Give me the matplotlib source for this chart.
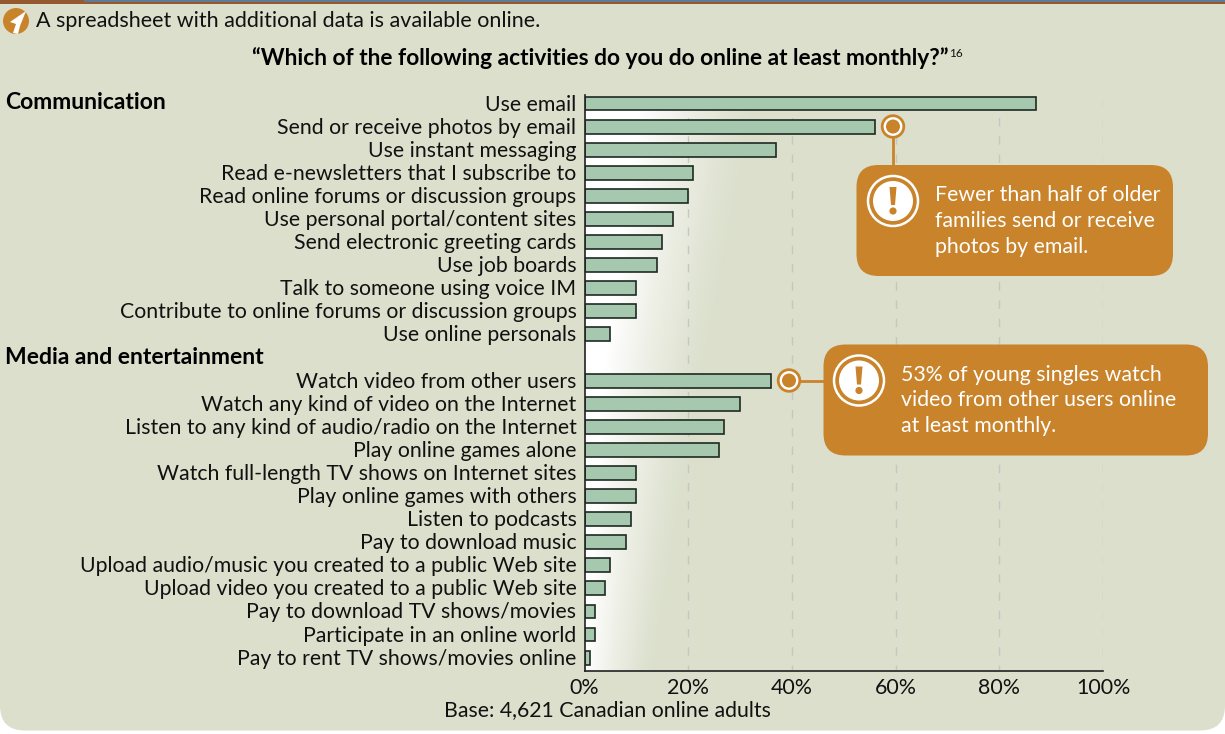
import matplotlib
matplotlib.use('Agg')
import matplotlib.pyplot as plt
import numpy as np
from matplotlib.patches import FancyBboxPatch, Circle, Rectangle
from matplotlib.transforms import ScaledTranslation

plt.rcParams['font.family'] = ['Lato', 'DejaVu Sans']

comm_labels = ['Use email', 'Send or receive photos by email', 'Use instant messaging',
               'Read e-newsletters that I subscribe to', 'Read online forums or discussion groups',
               'Use personal portal/content sites', 'Send electronic greeting cards', 'Use job boards',
               'Talk to someone using voice IM', 'Contribute to online forums or discussion groups',
               'Use online personals']
comm_values = [87, 56, 37, 21, 20, 17, 15, 14, 10, 10, 5]
media_labels = ['Watch video from other users', 'Watch any kind of video on the Internet',
                'Listen to any kind of audio/radio on the Internet', 'Play online games alone',
                'Watch full-length TV shows on Internet sites', 'Play online games with others',
                'Listen to podcasts', 'Pay to download music',
                'Upload audio/music you created to a public Web site',
                'Upload video you created to a public Web site', 'Pay to download TV shows/movies',
                'Participate in an online world', 'Pay to rent TV shows/movies online']
media_values = [36, 30, 27, 26, 10, 10, 9, 8, 5, 4, 2, 2, 1]
x_ticks = [0, 20, 40, 60, 80, 100]

BG = '#dbdfcc'
ORANGE = '#c9842b'
BAR = '#a6c8ae'
TEXT = '#111111'
W, H = 1225, 734

fig = plt.figure(figsize=(W / 100, H / 100), dpi=100, facecolor='white')

# full-figure layer in pixel coordinates for the panel, callouts and notes
bg = fig.add_axes([0, 0, 1, 1], zorder=0)
bg.set_xlim(0, W)
bg.set_ylim(H, 0)
bg.axis('off')
bg.add_patch(FancyBboxPatch((0, -40), W, 770.5, boxstyle='round,pad=0,rounding_size=25',
                            fc=BG, ec='none'))
bg.add_patch(Rectangle((0, 0), 84, 3.5, fc='#95592f', ec='none'))
bg.add_patch(Rectangle((84, 0), W - 84, 2, fc='#5f7a94', ec='none'))
bg.add_patch(Rectangle((84, 2), W - 84, 1.5, fc='#95592f', ec='none'))

# white glow behind the bars, wider near the top and narrowing downwards
gx, gy = np.meshgrid(np.linspace(585, 760, 260), np.linspace(106, 671, 260))
solid = np.interp(gy, [106, 380, 671], [640, 603, 585])
end = np.interp(gy, [106, 380, 671], [760, 705, 655])
alpha = np.clip((end - gx) / (end - solid), 0, 1) ** 1.3
glow = np.ones(alpha.shape + (4,))
glow[..., 3] = alpha
bg.imshow(glow, extent=(585, 760, 671, 106), aspect='auto', interpolation='bilinear', zorder=1)
bg.set_xlim(0, W)
bg.set_ylim(H, 0)

# chart
ax = fig.add_axes([584.5 / W, 1 - 671 / H, (1103 - 584.5) / W, (671 - 95) / H], zorder=1)
ax.patch.set_alpha(0)
ax.set_xlim(0, 100)
ax.set_ylim(24.58, -0.37)

comm_y = np.arange(len(comm_labels))
media_y = np.arange(len(media_labels)) + len(comm_labels) + 1
labels = comm_labels + media_labels
values = comm_values + media_values
y = np.concatenate([comm_y, media_y])

for t in x_ticks[1:]:
    ax.axvline(t, color='#c4c8c2', lw=1, linestyle=(1.73, (6.05, 7.09)), zorder=1)
ax.barh(y, values, height=0.6, color=BAR, edgecolor='#1f2a22', linewidth=1.2, zorder=2)

for s in ['top', 'right']:
    ax.spines[s].set_visible(False)
for s in ['left', 'bottom']:
    ax.spines[s].set_color('#222222')
    ax.spines[s].set_linewidth(1.2)
ax.set_xticks(x_ticks)
ax.set_xticklabels([f'{t}%' for t in x_ticks], fontsize=15.4, color=TEXT)
ax.tick_params(axis='x', length=0, pad=5)
ax.set_yticks(y)
ax.set_yticklabels(labels, fontsize=15.3, color=TEXT)
ax.tick_params(axis='y', length=0, pad=5.8)
nudge = ScaledTranslation(0, 1 / 100, fig.dpi_scale_trans)
for lab in ax.get_yticklabels():
    lab.set_transform(lab.get_transform() + nudge)

# notes and headings
bg.add_patch(Circle((16, 21), 13, fc=ORANGE, ec='none', zorder=2))
bg.fill([26, 10, 16, 13, 18, 20], [11, 22, 24, 33, 34, 26], color='white', lw=0, zorder=3)
bg.text(36, 21, 'A spreadsheet with additional data is available online.', fontsize=15.5,
        va='center', color=TEXT)
bg.text(252, 58, '\u201cWhich of the following activities do you do online at least monthly?\u201d',
        fontsize=16.35, fontweight='bold', ha='left', va='center', color='black')
bg.text(949, 53.5, '16', fontsize=8.5, ha='left', va='center', color=TEXT)
bg.text(5, 102.5, 'Communication', fontsize=16.5, fontweight='bold', va='center', color='black')
bg.text(5, 358, 'Media and entertainment', fontsize=16.5, fontweight='bold', va='center', color='black')
bg.text(607, 710, 'Base: 4,621 Canadian online adults', fontsize=15.3, ha='center', va='center', color=TEXT)

# callouts live on a top layer so they cover the gridlines
top = fig.add_axes([0, 0, 1, 1], zorder=2)
top.set_xlim(0, W)
top.set_ylim(H, 0)
top.axis('off')


def callout(x0, y0, w, h, text, icon_x, icon_y, text_x):
    top.add_patch(FancyBboxPatch((x0, y0), w, h, boxstyle='round,pad=0,rounding_size=22',
                                 fc=ORANGE, ec='none'))
    top.add_patch(Circle((icon_x, icon_y), 25, fc='none', ec='white', lw=1.8))
    top.add_patch(Circle((icon_x, icon_y), 20, fc='white', ec='none'))
    top.fill([icon_x - 3.5, icon_x + 3.5, icon_x + 2, icon_x - 2],
             [icon_y - 14, icon_y - 14, icon_y + 4, icon_y + 4], color=ORANGE, lw=0)
    top.add_patch(Circle((icon_x, icon_y + 10), 3.6, fc=ORANGE, ec='none'))
    top.text(text_x, y0 + h / 2 + 0.5, text, color='white', fontsize=15.3, va='center', linespacing=1.37)


def marker(cx, cy):
    top.add_patch(Circle((cx, cy), 10.8, fc='white', ec=ORANGE, lw=2, zorder=4))
    top.add_patch(Circle((cx, cy), 7, fc=ORANGE, ec='none', zorder=5))


top.plot([893, 893], [137, 166], color=ORANGE, lw=2)
marker(893, 126.5)
callout(856.5, 165, 316.5, 111, 'Fewer than half of older\nfamilies send or receive\nphotos by email.', 893, 201, 935)

top.plot([800, 824], [380.5, 380.5], color=ORANGE, lw=2)
marker(789, 380.5)
callout(823.5, 344.5, 384.5, 111, '53% of young singles watch\nvideo from other users online\nat least monthly.', 859, 380.5, 901)

fig.savefig('out.png', dpi=100, facecolor='white')
